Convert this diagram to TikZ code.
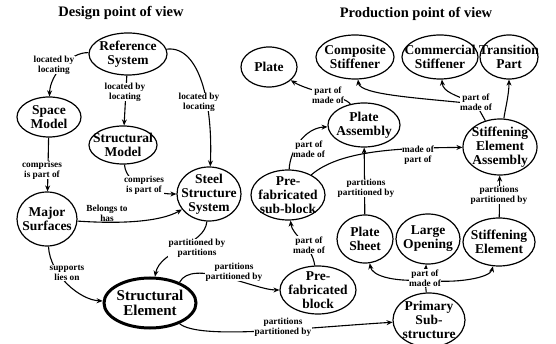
\documentclass[tikz,border=0pt]{standalone}
\usepackage{fontspec}
\setmainfont{Liberation Serif}
\usetikzlibrary{shapes.geometric,arrows.meta}
\begin{document}
\begin{tikzpicture}[x=1pt,y=1pt,
  ell/.style={draw, ellipse, line width=1.2pt, inner sep=0pt},
  ntext/.style={font=\fontsize{13.5}{14}\selectfont\bfseries, align=center, inner sep=0pt},
  bigtext/.style={font=\fontsize{15}{15.5}\selectfont\bfseries, align=center, inner sep=0pt},
  elab/.style={font=\fontsize{9.3}{9.8}\selectfont\bfseries, align=center, fill=white, inner sep=0.3pt},
  conn/.style={line width=1.1pt, -{Stealth[length=6pt,width=5pt]}},
  plainln/.style={line width=1.1pt},
  ttl/.style={font=\fontsize{14.5}{16}\selectfont\bfseries}]
\useasboundingbox (0,0) rectangle (556,-344);
\fill[white] (0,0) rectangle (556,-344);

% titles
\node[ttl] (t1) at (121,-13) {Design point of view};
\node[ttl] (t2) at (416,-14) {Production point of view};

% ellipses
\node[ell, minimum width=78, minimum height=42] (ref) at (128,-54) {};
\node[ell, minimum width=64, minimum height=40] (space) at (49,-117) {};
\node[ell, minimum width=68, minimum height=38] (smodel) at (123,-145) {};
\node[ell, minimum width=64, minimum height=54] (steel) at (209,-194) {};
\node[ell, minimum width=60, minimum height=54] (major) at (47,-219) {};
\node[ell, line width=3pt, minimum width=92, minimum height=50] (se) at (150,-303) {};
\node[ell, minimum width=76, minimum height=48] (block) at (318,-290) {};
\node[ell, minimum width=72, minimum height=54] (primary) at (429,-320) {};
\node[ell, minimum width=74, minimum height=50] (sub) at (288,-195) {};
\node[ell, minimum width=56, minimum height=40] (plate) at (269,-67) {};
\node[ell, minimum width=78, minimum height=44] (comp) at (355,-57) {};
\node[ell, minimum width=76, minimum height=44] (comm) at (440,-57) {};
\node[ell, minimum width=58, minimum height=44] (trans) at (509,-57) {};
\node[ell, minimum width=72, minimum height=44] (pa) at (364,-125) {};
\node[ell, minimum width=74, minimum height=56] (sea) at (500,-147) {};
\node[ell, minimum width=56, minimum height=48] (ps) at (365,-239) {};
\node[ell, minimum width=64, minimum height=50] (lo) at (428,-239) {};
\node[ell, minimum width=72, minimum height=48] (sel) at (499,-242) {};

% node texts
\node[ntext] (ref-t) at (ref) {Reference\\System};
\node[ntext] (space-t) at (space) {Space\\Model};
\node[ntext] (smodel-t) at (smodel) {Structural\\Model};
\node[ntext] (steel-t) at (steel) {Steel\\Structure\\System};
\node[ntext] (major-t) at (major) {Major\\Surfaces};
\node[bigtext] (se-t) at (se) {Structural\\Element};
\node[ntext] (block-t) at (block) {Pre-\\fabricated\\block};
\node[ntext] (primary-t) at (primary) {Primary\\Sub-\\structure};
\node[ntext] (sub-t) at (sub) {Pre-\\fabricated\\sub-block};
\node[ntext] (plate-t) at (plate) {Plate};
\node[ntext] (comp-t) at (comp) {Composite\\Stiffener};
\node[ntext] (comm-t) at (comm) {Commercial\\Stiffener};
\node[ntext] (trans-t) at (trans) {Transition\\Part};
\node[ntext] (pa-t) at (pa) {Plate\\Assembly};
\node[ntext] (sea-t) at (sea) {Stiffening\\Element\\Assembly};
\node[ntext] (ps-t) at (ps) {Plate\\Sheet};
\node[ntext] (lo-t) at (lo) {Large\\Opening};
\node[ntext] (sel-t) at (sel) {Stiffening\\Element};

% junctions
\coordinate (j1) at (476,-104);
\coordinate (j2) at (425,-280);

% connectors
\draw[conn] (ref) .. controls (70,-52) and (50,-75) .. (space);
\draw[conn] (ref) -- (smodel);
\draw[conn] (ref) .. controls (200,-45) and (213,-105) .. (steel);
\draw[conn] (space) -- (major);
\draw[conn] (smodel) .. controls (126,-185) and (155,-194) .. (steel);
\draw[conn] (major) .. controls (120,-224) and (160,-222) .. (steel);
\draw[conn] (steel) .. controls (205,-245) and (160,-250) .. (se);
\draw[conn] (major) .. controls (50,-275) and (80,-300) .. (se);
\draw[conn] (se.35) .. controls (192,-258) and (255,-290) .. (block);
\draw[conn] (se.-35) .. controls (200,-340) and (300,-328) .. (primary);
\draw[conn] (sub) .. controls (290,-150) and (305,-128) .. (pa);
\draw[conn] (sub) .. controls (340,-150) and (400,-148) .. (sea);
\draw[conn] (pa) .. controls (345,-96) and (310,-92) .. (plate);
\draw[plainln] (sea) -- (j1);
\draw[conn] (j1) .. controls (420,-98) and (360,-95) .. (comp);
\draw[conn] (j1) .. controls (455,-95) and (443,-92) .. (comm);
\draw[conn] (sea) .. controls (505,-110) and (509,-95) .. (trans);
\draw[conn] (ps) -- (pa);
\draw[conn] (sel) -- (sea);
\draw[conn] (block) .. controls (312,-245) and (292,-235) .. (sub);
\draw[plainln] (primary) -- (j2);
\draw[conn] (j2) .. controls (390,-282) and (372,-275) .. (ps);
\draw[conn] (j2) -- (lo);
\draw[conn] (j2) .. controls (455,-284) and (490,-278) .. (sel);

% connector labels
\node[elab] (l1) at (54,-65) {located by\\locating};
\node[elab] (l2) at (125,-92) {located by\\locating};
\node[elab] (l3) at (199,-102) {located by\\locating};
\node[elab] (l4) at (42,-170) {comprises\\is part of};
\node[elab] (l5) at (144,-185) {comprises\\is part of};
\node[elab] (l6) at (107,-213) {Belongs to\\has};
\node[elab] (l7) at (197,-248) {partitioned by\\partitions};
\node[elab] (l8) at (67,-273) {supports\\lies on};
\node[elab] (l9) at (234,-272) {partitions\\partitioned by};
\node[elab] (l10) at (283,-327) {partitions\\partitioned by};
\node[elab] (l11) at (309,-149) {part of\\made of};
\node[elab] (l12) at (418,-155) {made of\\part of};
\node[elab] (l13) at (328,-95) {part of\\made of};
\node[elab] (l14) at (476,-102) {part of\\made of};
\node[elab] (l15) at (366,-188) {partitions\\partitioned by};
\node[elab] (l16) at (499,-195) {partitions\\partitioned by};
\node[elab] (l17) at (309,-245) {part of\\made of};
\node[elab] (l18) at (425,-278) {part of\\made of};
\end{tikzpicture}
\end{document}
